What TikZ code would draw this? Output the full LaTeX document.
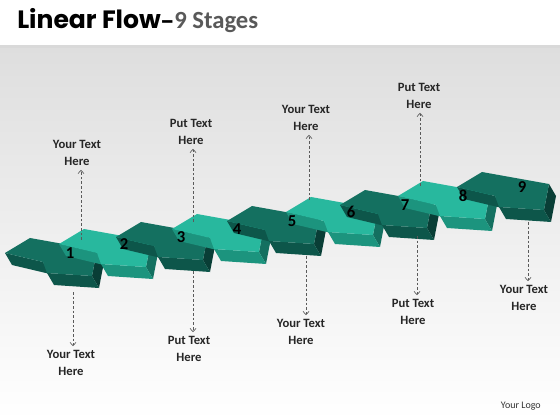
\documentclass[tikz,border=0pt]{standalone}
\usepackage{fontspec}
\setmainfont{Carlito}
\newfontfamily\titlefont{Poppins}
\usetikzlibrary{arrows.meta}
\definecolor{dktop}{RGB}{20,112,96}
\definecolor{dkfront}{RGB}{13,86,74}
\definecolor{dkside}{RGB}{9,62,54}
\definecolor{lttop}{RGB}{40,184,158}
\definecolor{ltfront}{RGB}{28,148,126}
\definecolor{ltside}{RGB}{20,112,96}
\definecolor{bgtop}{RGB}{222,222,222}
\definecolor{linkgray}{RGB}{90,90,90}
\tikzset{
  dk top/.style={fill=dktop},
  dk front/.style={fill=dkfront},
  dk side/.style={fill=dkside},
  lt top/.style={fill=lttop},
  lt front/.style={fill=ltfront},
  lt side/.style={fill=ltside},
  stagenum/.style={font=\fontsize{12.5}{14}\selectfont\bfseries, text=black, inner sep=0pt},
  note/.style={font=\fontsize{9.5}{12.5}\selectfont\bfseries, text=black!85, align=center, inner sep=1pt},
  link/.style={draw=linkgray, line width=0.5pt, dash pattern=on 2pt off 1.5pt, -{Straight Barb[length=2.5pt,width=4.5pt]}, shorten >=2pt}
}

\begin{document}
\begin{tikzpicture}[x=0.75pt,y=0.75pt,yscale=-1,xscale=1]
\useasboundingbox (0,0) rectangle (560,420);

%Background
\fill[white] (0,0) rectangle (560,420);
\shade[top color=bgtop, bottom color=white] (0,47) rectangle (560,420);
\fill[black!15] (0,45) rectangle (560,48);

% Title
\node[anchor=base west, inner sep=0pt] (title) at (17,29) {\titlefont\fontsize{18.8}{22}\selectfont\bfseries Linear Flow{\fontsize{14}{16}\selectfont –}};
\node[anchor=base west, inner sep=0pt, text=black!65] (subtitle) at (title.base east) {\fontsize{18.5}{20}\selectfont\bfseries 9 Stages};

% Arrows
\foreach \n/\cx/\cy/\kind in {1/70/253/dk,2/124/244/lt,3/181/237/dk,4/237/229/lt,5/292/221/dk,6/351/212/lt,7/405/205/dk,8/463/196/lt,9/522/187/dk}{
  \begin{scope}[shift={(\cx,\cy)}]
    \fill[\kind\space side] (27,-3) -- (22,23) -- (29,35) -- (34,9) -- cycle;
    \fill[\kind\space front] (-23,20) -- (22,23) -- (29,35) -- (-16,32) -- cycle;
    \fill[\kind\space front] (-65,0) -- (-27,9) -- (-20,21) -- (-58,12) -- cycle;
    \fill[\kind\space top] (-65,0) -- (-40,-15) -- (27,-3) -- (22,23) -- (-23,20) -- (-27,9) -- cycle;
  \end{scope}
}
\foreach \n/\cx/\cy in {1/70/253,2/124/244,3/181/237,4/237/229,5/292/221,6/351/212,7/405/205,8/463/196,9/522/187}
  \node[stagenum] (s\n) at (\cx,\cy) {\n};

% Text Node
\node[note] (up1) at (77,153) {Your Text\\Here};
\node[note] (up2) at (191,132) {Put Text\\Here};
\node[note] (up3) at (306,118) {Your Text\\Here};
\node[note] (up4) at (419,96) {Put Text\\Here};
\node[note] (dn1) at (71,363) {Your Text\\Here};
\node[note] (dn2) at (189,349) {Put Text\\Here};
\node[note] (dn3) at (301,332) {Your Text\\Here};
\node[note] (dn4) at (413,312) {Put Text\\Here};
\node[note] (dn5) at (524,298) {Your Text\\Here};
\node[anchor=east, inner sep=0pt, font=\fontsize{7.5}{9}\selectfont, text=black!80] (logo) at (541,406) {Your Logo};

% Links
\coordinate (u1) at (81,240);
\coordinate (u2) at (193,222);
\coordinate (u3) at (309,200);
\coordinate (u4) at (420,186);
\coordinate (d1) at (73,292);
\coordinate (d2) at (193,271);
\coordinate (d3) at (306,256);
\coordinate (d4) at (417,236);
\coordinate (d5) at (528,222);
\draw[link] (u1) -- (u1 |- up1.south);
\draw[link] (u2) -- (u2 |- up2.south);
\draw[link] (u3) -- (u3 |- up3.south);
\draw[link] (u4) -- (u4 |- up4.south);
\draw[link] (d1) -- (d1 |- dn1.north);
\draw[link] (d2) -- (d2 |- dn2.north);
\draw[link] (d3) -- (d3 |- dn3.north);
\draw[link] (d4) -- (d4 |- dn4.north);
\draw[link] (d5) -- (d5 |- dn5.north);

\end{tikzpicture}
\end{document}
